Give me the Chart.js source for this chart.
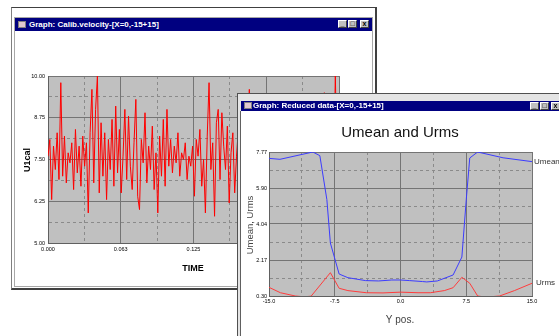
<!DOCTYPE html>
<html>
<head>
<meta charset="utf-8">
<script src="https://cdn.jsdelivr.net/npm/chart.js@4.4.0/dist/chart.umd.min.js"></script>
<style>
  html, body { margin: 0; padding: 0; background: #fff; width: 559px; height: 336px; overflow: hidden; }
  div, canvas { position: absolute; box-sizing: border-box; }
  .bar { background: #000080; color: #fff; font: bold 8px 'Liberation Sans', Arial, sans-serif; white-space: nowrap; }
  .bar span { position: absolute; top: 1px; }
  .icon { left: 3px; top: 2px; width: 8px; height: 7px; background: #e0c8d0; border: 1px solid #808080; }
  .btn { top: 1px; width: 9px; height: 8px; background: #c0c0c0; border: 1px solid; border-color: #fff #404040 #404040 #fff;
         color: #000; font: bold 7px 'Liberation Sans', Arial, sans-serif; line-height: 6px; text-align: center; }
</style>
</head>
<body>
<!-- back window: calibrated velocity -->
<div style="left:11px;top:7px;width:366px;height:283px;border-top:1px solid #404040;border-left:1px solid #808080;border-right:2px solid #404040;border-bottom:2px solid #404040;background:#fff"></div>
<div style="left:14px;top:17px;width:359px;height:270px;border:1px solid #a8a8a8"></div>
<div class="bar" style="left:15px;top:18px;width:357px;height:13px">
  <div class="icon" style="top:3px"></div>
  <span style="left:14px;top:2px">Graph: Calib.velocity-[X=0,-15+15]</span>
  <div class="btn" style="left:323px;top:2px">_</div>
  <div class="btn" style="left:333px;top:2px">□</div>
  <div class="btn" style="left:345px;top:2px">x</div>
</div>
<canvas id="velChart" width="355" height="257" style="left:17px;top:31px"></canvas>

<!-- front window: reduced data -->
<div style="left:237px;top:93px;width:330px;height:250px;border-top:1px solid #505050;border-left:1px solid #505050;background:#e4e4e4"></div>
<div class="bar" style="left:241px;top:101px;width:320px;height:10px">
  <div class="icon" style="top:1px"></div>
  <span style="left:12px;top:0px">Graph: Reduced data-[X=0,-15+15]</span>
  <div class="btn" style="left:289px">_</div>
  <div class="btn" style="left:299px">□</div>
  <div class="btn" style="left:310px">x</div>
</div>
<div style="left:240px;top:111px;width:330px;height:230px;background:#fff;border-left:1px solid #606060"></div>
<canvas id="redChart" width="318" height="225" style="left:241px;top:111px"></canvas>

<script>
const FONT = "'Liberation Sans', Arial, sans-serif";

// ---------- data: calibrated velocity ---------- //
const sampleTime = 0.25 / 159;
const u1cal = [
  7.6, 8.1, 6.3, 7.9, 7.2, 8.3, 6.9, 9.8, 7.0, 8.2,
  6.8, 7.7, 7.4, 8.0, 6.6, 8.4, 7.1, 7.9, 6.7, 8.2,
  7.3, 8.0, 5.9, 8.3, 9.6, 6.8, 9.0, 10.0, 6.5, 8.6,
  7.0, 8.3, 6.3, 8.1, 7.2, 8.7, 6.7, 9.1, 7.1, 8.4,
  6.5, 7.6, 9.0, 6.9, 8.8, 7.3, 6.6, 8.0, 9.3, 6.4,
  6.0, 8.1, 7.4, 8.9, 6.8, 7.9, 7.2, 8.5, 6.6, 7.7,
  5.9, 8.2, 7.0, 8.7, 6.7, 9.0, 7.3, 8.1, 7.1, 7.9,
  7.4, 8.3, 7.0, 7.7, 7.5, 8.0, 6.9, 7.6, 7.3, 7.9,
  6.4, 8.1, 7.6, 8.4, 6.7, 7.5, 5.9, 8.2, 9.8, 7.2,
  8.0, 5.8, 8.6, 9.0, 6.9, 8.9, 7.9, 7.2, 8.5, 6.2,
  7.7, 8.3, 6.5, 7.6, 8.4, 7.1, 8.0, 6.8, 7.9, 7.3,
  9.6, 6.9, 7.8, 7.2, 8.5, 6.6, 7.7, 8.1, 7.0, 8.6,
  6.4, 7.9, 7.4, 8.3, 6.8, 7.6, 8.0, 7.1, 8.7, 6.5,
  7.8, 7.3, 8.2, 6.9, 7.5, 8.4, 7.0, 7.9, 6.7, 8.1,
  7.4, 8.6, 6.6, 7.7, 8.0, 7.2, 8.3, 6.9, 7.6, 9.0,
  7.1, 9.5, 6.8, 7.9, 7.3, 8.4, 7.0, 10.0, 7.2, 7.7
];
const timeTicks = [0, 0.0625, 0.125, 0.1875, 0.25];
const timeLabels = ["0.000", "0.063", "0.125", "0.188", "0.250"];
const u1Ticks = [5, 6.25, 7.5, 8.75, 10];
const u1Labels = ["5.00", "6.25", "7.50", "8.75", "10.00"];

// ---------- data: reduced profile ---------- //
const umeanPos = [-15, -13.75, -10, -9.2, -8.4, -8.0, -7.0, -6.0, -4.0, -2.5, -1.0, 0, 1.0, 2.5, 3.0, 4.2, 6.0, 7.0, 7.5, 7.9, 8.8, 11.7, 15];
const umean    = [7.44, 7.39, 7.77, 7.58, 5.3, 3.05, 1.44, 1.25, 1.1, 1.08, 1.13, 1.13, 1.1, 1.05, 1.03, 1.08, 1.39, 2.32, 5.3, 7.46, 7.77, 7.47, 7.27];
const urmsPos  = [-15, -13.7, -12, -11, -10.2, -8.0, -7.0, -6.0, -3.9, -2.0, 0, 2.0, 3.4, 5.0, 6.0, 7.0, 7.9, 8.8, 9.6, 10.5, 11.3, 13.0, 15];
const urms     = [0.75, 0.47, 0.3, 0.26, 0.29, 1.51, 0.7, 0.58, 0.47, 0.46, 0.5, 0.47, 0.47, 0.58, 0.73, 1.27, 0.96, 0.3, 0.25, 0.27, 0.3, 0.58, 0.96];
const posTicks = [-15, -7.5, 0, 7.5, 15];
const posLabels = ["-15.0", "-7.5", "0.0", "7.5", "15.0"];
const uTicks = [0.30, 2.1675, 4.035, 5.9025, 7.77];
const uLabels = ["0.30", "2.17", "4.04", "5.90", "7.77"];

// ---------- helpers ---------- //
function withMinors(majors) {
  const out = [];
  majors.forEach((v, i) => {
    out.push(v);
    if (i < majors.length - 1) out.push((v + majors[i + 1]) / 2);
  });
  return out;
}

function axis(pos, majors, labels, size, pad) {
  return {
    type: "linear",
    position: pos,
    min: majors[0],
    max: majors[majors.length - 1],
    afterBuildTicks(s) { s.ticks = withMinors(majors).map(v => ({ value: v })); },
    afterFit(s) { if (pos === "left") s.width = size; else s.height = size; },
    ticks: {
      autoSkip: false, maxRotation: 0, padding: pad, color: "#000",
      font: { size: 5.5, family: FONT },
      callback: (v, i) => (i % 2 ? "" : labels[i / 2]),
    },
    grid: { drawTicks: false, lineWidth: 1, color: c => (c.index % 2 ? "#8a8a8a" : "#747474") },
    border: { color: "#606060", dash: c => (c.index % 2 ? [3, 3] : []) },
  };
}

const plotBg = {
  id: "plotBg",
  beforeDraw(chart) {
    const { ctx, chartArea: a } = chart;
    ctx.save();
    ctx.fillStyle = "#c0c0c0";
    ctx.fillRect(a.left, a.top, a.width, a.height);
    ctx.restore();
  },
};

function texts(items) {
  return {
    id: "texts",
    afterDraw(chart) {
      const ctx = chart.ctx;
      items.forEach(t => {
        ctx.save();
        ctx.font = t.font;
        ctx.fillStyle = t.color || "#000";
        ctx.textAlign = t.align || "center";
        ctx.textBaseline = "middle";
        ctx.translate(t.x, t.y);
        if (t.rot) ctx.rotate(t.rot);
        ctx.fillText(t.text, 0, 0);
        ctx.restore();
      });
    },
  };
}

const common = {
  responsive: false,
  devicePixelRatio: 1,
  animation: false,
  plugins: { legend: { display: false }, tooltip: { enabled: false } },
};

// ---------- left chart: U1cal vs TIME ---------- //
new Chart(document.getElementById("velChart"), {
  type: "line",
  data: {
    datasets: [{
      data: u1cal.map((v, i) => ({ x: i * sampleTime, y: v })),
      borderColor: "#ff0000",
      borderWidth: 1,
      pointRadius: 0,
      tension: 0,
    }],
  },
  options: {
    ...common,
    layout: { padding: { top: 45, right: 33, left: 0, bottom: 0 } },
    scales: {
      x: axis("bottom", timeTicks, timeLabels, 45, 3),
      y: axis("left", u1Ticks, u1Labels, 31, 3),
    },
  },
  plugins: [plotBg, texts([
    { text: "U1cal", x: 11, y: 129, font: "bold 9px " + FONT, rot: -Math.PI / 2 },
    { text: "TIME", x: 176, y: 238, font: "bold 9px " + FONT },
  ])],
});

// ---------- right chart: Umean and Urms vs Y pos. ---------- //
new Chart(document.getElementById("redChart"), {
  type: "line",
  data: {
    datasets: [
      {
        label: "Umean",
        data: umeanPos.map((p, i) => ({ x: p, y: umean[i] })),
        borderColor: "#3c3cff",
        borderWidth: 1,
        pointRadius: 0,
      },
      {
        label: "Urms",
        data: urmsPos.map((p, i) => ({ x: p, y: urms[i] })),
        borderColor: "#ff3c3c",
        borderWidth: 1,
        pointRadius: 0,
      },
    ],
  },
  options: {
    ...common,
    layout: { padding: { top: 41, right: 27, left: 0, bottom: 0 } },
    scales: {
      x: axis("bottom", posTicks, posLabels, 40, 2),
      y: axis("left", uTicks, uLabels, 28, 2),
    },
  },
  plugins: [plotBg, texts([
    { text: "Umean and Urms", x: 159, y: 22, font: "15px " + FONT, color: "#111" },
    { text: "Umean, Urms", x: 9, y: 114, font: "9.5px " + FONT, color: "#444", rot: -Math.PI / 2 },
    { text: "Y pos.", x: 159, y: 209, font: "10px " + FONT, color: "#444" },
    { text: "Umean", x: 293, y: 51, font: "8px " + FONT, color: "#333", align: "left" },
    { text: "Urms", x: 295, y: 172, font: "8px " + FONT, color: "#333", align: "left" },
  ])],
});
</script>
</body>
</html>
